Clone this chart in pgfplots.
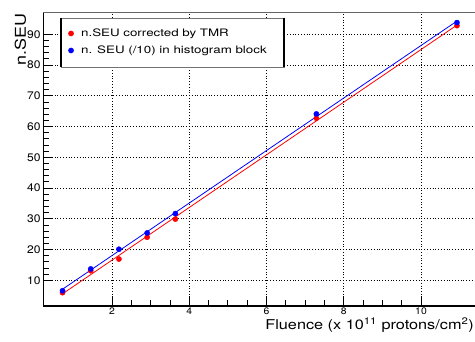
\documentclass[border=0pt]{standalone}
\usepackage{fontspec}
\setmainfont{TeX Gyre Heros}
\newfontfamily\legfont[FakeStretch=1.3]{TeX Gyre Heros}
\newfontfamily\labfont[FakeStretch=1.2]{TeX Gyre Heros}
\newfontfamily\tickfont[FakeStretch=1.1]{TeX Gyre Heros}
\usepackage{pgfplots}
\pgfplotsset{compat=1.18}
\definecolor{rootred}{RGB}{255,0,0}
\definecolor{rootblue}{RGB}{0,0,255}
\begin{document}
\begin{tikzpicture}
\path[use as bounding box] (0bp,0bp) rectangle (475bp,342bp);
\begin{axis}[
  at={(43.3bp,36bp)}, anchor=south west,
  scale only axis, width=431.7bp, height=294bp,
  xmin=0.222, xmax=11.397, ymin=1.64, ymax=97.25,
  axis x line*=bottom, axis y line*=left,
  axis line style={line width=1.3pt, -},
  xtick={2,4,6,8,10}, ytick={10,20,30,40,50,60,70,80,90},
  minor x tick num=3, minor y tick num=4,
  tick align=inside, major tick length=10bp, minor tick length=5.5bp,
  tick style={black, line width=0.8pt},
  grid=major,
  major grid style={black, line width=0.7pt, dash pattern=on 0.8bp off 2bp},
  /pgf/number format/assume math mode=true,
  xticklabel style={font=\tickfont\fontsize{9.5}{10}\selectfont, inner sep=2bp},
  yticklabel style={font=\tickfont\fontsize{11}{12}\selectfont, inner sep=2.5bp},
  xlabel={Fluence (x 10\textsuperscript{11} protons/cm\textsuperscript{2})},
  ylabel={n.SEU},
  every axis x label/.style={at={(axis description cs:0.9977,-0.079)}, anchor=base east, inner sep=0pt, font=\labfont\fontsize{13.6}{15}\selectfont},
  every axis y label/.style={at={(axis description cs:-0.0528,0.995)}, rotate=90, anchor=east, inner sep=0pt, font=\labfont\fontsize{15}{16}\selectfont},
  legend style={at={(axis description cs:0.0578,0.898)}, anchor=west, draw=none, fill=none, inner sep=0pt,
    font=\legfont\fontsize{10.3}{12}\selectfont, row sep=4.8bp,
    nodes={inner sep=1bp, text height=8bp, text depth=2.2bp},
    /tikz/every odd column/.append style={column sep=6.5bp}},
  legend cell align=left,
  legend image code/.code={\draw[#1] plot coordinates {(0bp,0bp)};},
  clip=false,
]
\fill[white] (axis description cs:0.041,0.980) rectangle (axis description cs:0.5576,0.813);
\draw[black!55, line width=0.5pt] (axis description cs:0.041,0.980) rectangle (axis description cs:0.5576,0.813);
\draw[black, line width=2.8pt] (axis description cs:0.041,0.980) -- (axis description cs:0.041,0.813);
\draw[black, line width=2.8pt] (axis description cs:0.5576,0.980) -- (axis description cs:0.5576,0.813);
\draw[black!60, line width=0.6pt] (rel axis cs:0,1) -- (rel axis cs:1,1);

\addplot[only marks, mark=*, color=rootred, mark size=2.6bp] coordinates {
(0.72,5.97) (1.45,13.1) (2.18,16.9) (2.91,24.0) (3.64,29.9) (7.29,62.7) (10.93,92.8)};
\addlegendentry{n.SEU corrected by TMR}
\addplot[only marks, mark=*, color=rootblue, mark size=2.6bp] coordinates {
(0.72,6.6) (1.45,13.7) (2.18,20.1) (2.91,25.4) (3.64,31.7) (7.29,64.1) (10.93,93.8)};
\addlegendentry{n. SEU (/10) in histogram block}
\addplot[color=rootred, line width=0.8pt, forget plot] coordinates {(0.72,5.6) (10.93,93.0)};
\addplot[color=rootblue, line width=0.8pt, forget plot] coordinates {(0.72,7.1) (10.93,94.3)};
\end{axis}
\end{tikzpicture}
\end{document}
